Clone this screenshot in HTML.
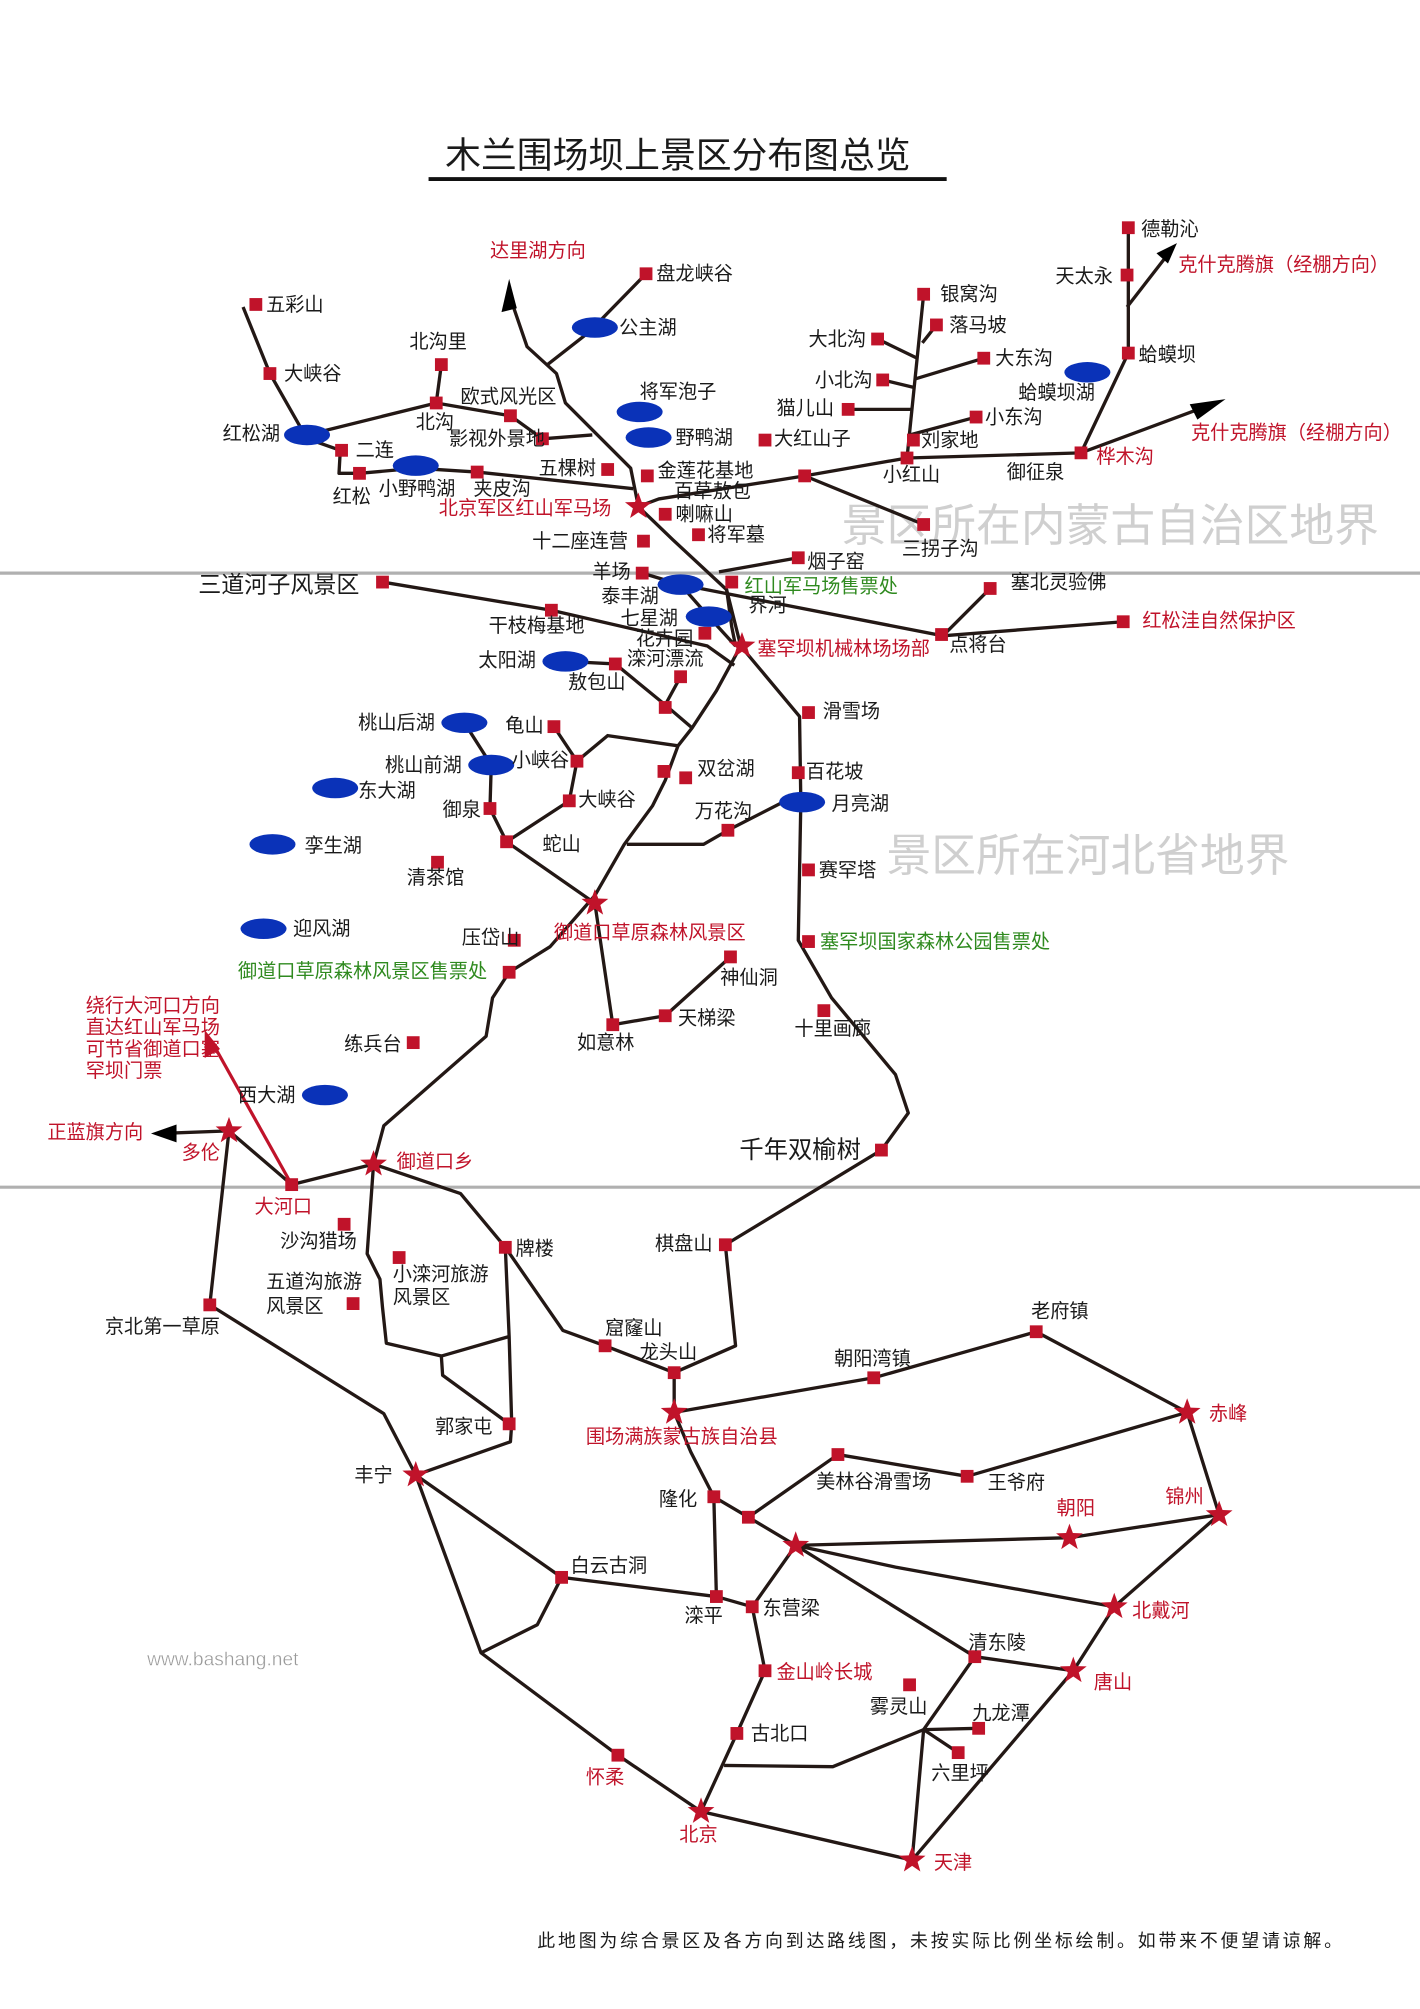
<!DOCTYPE html>
<html><head><meta charset="utf-8"><style>
html,body{margin:0;padding:0;background:#fff;}
svg{display:block;}
text{font-family:"Liberation Sans","Noto Sans CJK SC",sans-serif;font-size:15px;fill:#1a1a1a;}
.r{fill:#c0132a;}
.g{fill:#2f8a1f;}
.w{fill:#cfcfcf;font-size:35px;}
</style></head><body>
<svg width="1420" height="2009" viewBox="0 0 1110 1570.4" preserveAspectRatio="none" xmlns="http://www.w3.org/2000/svg">
<defs>
<polygon id="st" points="0,-11 2.65,-3.64 10.46,-3.4 4.28,1.39 6.47,8.9 0,4.5 -6.47,8.9 -4.28,1.39 -10.46,-3.4 -2.65,-3.64" fill="#c0132a"/>
<rect id="sq" x="-5" y="-5" width="10" height="10" fill="#c0132a"/>
<ellipse id="lk" rx="18" ry="8" fill="#0a32b8"/>
</defs>
<rect width="1110" height="1571" fill="#fff"/>
<line x1="0" y1="448" x2="1110" y2="448" stroke="#b0b0b0" stroke-width="2.5"/>
<line x1="0" y1="928" x2="1110" y2="928" stroke="#b0b0b0" stroke-width="2.5"/>
<text class="w" x="658" y="423">景区所在内蒙古自治区地界</text>
<text class="w" x="693" y="681">景区所在河北省地界</text>
<text x="348" y="131" style="font-size:28px">木兰围场坝上景区分布图总览</text>
<line x1="335" y1="140" x2="740" y2="140" stroke="#111" stroke-width="3"/>

<g fill="none" stroke="#231815" stroke-width="2.6" stroke-linejoin="round">
<polyline points="190,240 211,292 236,336"/>
<polyline points="240,340 341,315 399,325 424,343 463,340"/>
<polyline points="341,315 345,285"/>
<polyline points="246,345 266,352 265,370 281,370 325,366 373,369 495,382"/>
<polyline points="400,236 412,271 435,292 442,315 493,366 499,396 526,422 568,461 579,505"/>
<polyline points="428,285 460,260 505,214"/>
<polyline points="499,396 515,390 629,372 709,358 845,354"/>
<polyline points="629,372 722,410"/>
<polyline points="709,358 722,230"/>
<polyline points="686,265 717,280"/>
<polyline points="732,254 721,268"/>
<polyline points="769,280 716,296"/>
<polyline points="690,297 715,303"/>
<polyline points="663,320 712,320"/>
<polyline points="763,326 711,340"/>
<polyline points="845,354 882,276 882,178"/>
<polyline points="881,240 912,200"/>
<polyline points="845,354 942,318"/>
<polyline points="562,447 624,436"/>
<polyline points="502,448 532,457 737,497 774,460"/>
<polyline points="737,497 878,486"/>
<polyline points="532,457 554,482 575,505"/>
<polyline points="299,455 431,477 553,505 574,520"/>
<polyline points="568,461 572,490 575,505"/>
<polyline points="579,505 560,540 541,569 530,583 520,610 510,630 488,660 465,700 430,740 398,760 385,780 380,810 340,845 300,880 292,910"/>
<polyline points="442,517 481,519 520,551 541,569"/>
<polyline points="532,529 520,551"/>
<polyline points="363,565 384,598 383,632 396,658 465,706"/>
<polyline points="396,658 445,626 451,595 433,568"/>
<polyline points="451,595 475,575 530,583"/>
<polyline points="465,706 479,801 520,794 571,748"/>
<polyline points="490,660 550,660 569,649 612,627"/>
<polyline points="579,505 625,560 626,627 624,735 650,780 700,840 710,870 689,899 567,973 575,1052 527,1073"/>
<polyline points="126,886 179,884 228,926 292,910"/>
<polyline points="179,884 164,1020 300,1105 325,1153"/>
<polyline points="292,910 287,980 297,1000 299,1022 302,1050 345,1060 346,1075 398,1113"/>
<polyline points="345,1060 397,1045"/>
<polyline points="292,910 360,933 395,975 398,1045 400,1113 399,1127 325,1153"/>
<polyline points="395,975 440,1040 473,1052 527,1073 527,1104"/>
<polyline points="527,1104 683,1077 810,1041 928,1104 953,1184 871,1256 839,1306 713,1454"/>
<polyline points="527,1104 540,1135 558,1170 585,1186 622,1208"/>
<polyline points="558,1170 560,1248"/>
<polyline points="585,1186 655,1137 756,1154 928,1104"/>
<polyline points="622,1208 836,1202 953,1184"/>
<polyline points="622,1208 700,1225 871,1256"/>
<polyline points="622,1208 762,1295 839,1306"/>
<polyline points="622,1208 588,1256 598,1306 576,1355 548,1416"/>
<polyline points="325,1153 439,1233 560,1248 588,1256"/>
<polyline points="325,1153 376,1292 483,1372 548,1416 713,1454"/>
<polyline points="376,1292 420,1270 439,1233"/>
<polyline points="762,1295 722,1352 713,1454"/>
<polyline points="722,1352 765,1351"/>
<polyline points="722,1352 749,1370"/>
<polyline points="722,1352 651,1381 566,1380"/>
</g>
<polygon points="398,218 392,244 404,241" fill="#000"/>
<polygon points="920,190 904,198 913,206" fill="#000"/>
<polygon points="958,312 930,316 936,328" fill="#000"/>
<polygon points="118,886 138,879 138,893" fill="#000"/>
<line x1="228" y1="926" x2="166" y2="815" stroke="#c0132a" stroke-width="2.5"/>
<polygon points="160,805 160,827 172,820" fill="#c0132a"/>

<g>
<use href="#sq" x="200" y="238"/><use href="#sq" x="211" y="292"/><use href="#sq" x="267" y="352"/>
<use href="#sq" x="281" y="370"/><use href="#sq" x="373" y="369"/><use href="#sq" x="341" y="315"/>
<use href="#sq" x="345" y="285"/><use href="#sq" x="399" y="325"/><use href="#sq" x="424" y="343"/>
<use href="#sq" x="475" y="367"/><use href="#sq" x="505" y="214"/><use href="#sq" x="506" y="372"/>
<use href="#sq" x="520" y="402"/><use href="#sq" x="546" y="418"/><use href="#sq" x="503" y="423"/>
<use href="#sq" x="502" y="448"/><use href="#sq" x="572" y="455"/><use href="#sq" x="551" y="495"/>
<use href="#sq" x="481" y="519"/><use href="#sq" x="624" y="436"/><use href="#sq" x="722" y="410"/>
<use href="#sq" x="736" y="496"/><use href="#sq" x="774" y="460"/><use href="#sq" x="878" y="486"/>
<use href="#sq" x="299" y="455"/><use href="#sq" x="431" y="477"/><use href="#sq" x="629" y="372"/>
<use href="#sq" x="722" y="230"/><use href="#sq" x="732" y="254"/><use href="#sq" x="686" y="265"/>
<use href="#sq" x="769" y="280"/><use href="#sq" x="690" y="297"/><use href="#sq" x="663" y="320"/>
<use href="#sq" x="763" y="326"/><use href="#sq" x="598" y="344"/><use href="#sq" x="714" y="344"/>
<use href="#sq" x="709" y="358"/><use href="#sq" x="845" y="354"/><use href="#sq" x="882" y="276"/>
<use href="#sq" x="881" y="215"/><use href="#sq" x="882" y="178"/>
<use href="#sq" x="532" y="529"/><use href="#sq" x="520" y="553"/>
<use href="#sq" x="433" y="568"/><use href="#sq" x="451" y="595"/><use href="#sq" x="383" y="632"/>
<use href="#sq" x="445" y="626"/><use href="#sq" x="396" y="658"/><use href="#sq" x="342" y="674"/>
<use href="#sq" x="402" y="735"/><use href="#sq" x="398" y="760"/><use href="#sq" x="323" y="815"/>
<use href="#sq" x="479" y="801"/><use href="#sq" x="520" y="794"/><use href="#sq" x="571" y="748"/>
<use href="#sq" x="644" y="790"/><use href="#sq" x="519" y="603"/><use href="#sq" x="536" y="608"/>
<use href="#sq" x="624" y="604"/><use href="#sq" x="569" y="649"/><use href="#sq" x="632" y="557"/>
<use href="#sq" x="632" y="680"/><use href="#sq" x="632" y="736"/><use href="#sq" x="689" y="899"/>
<use href="#sq" x="228" y="926"/><use href="#sq" x="164" y="1020"/><use href="#sq" x="269" y="957"/>
<use href="#sq" x="276" y="1019"/><use href="#sq" x="312" y="983"/><use href="#sq" x="395" y="975"/>
<use href="#sq" x="473" y="1052"/><use href="#sq" x="527" y="1073"/><use href="#sq" x="398" y="1113"/>
<use href="#sq" x="567" y="973"/><use href="#sq" x="683" y="1077"/><use href="#sq" x="810" y="1041"/>
<use href="#sq" x="756" y="1154"/><use href="#sq" x="655" y="1137"/><use href="#sq" x="558" y="1170"/>
<use href="#sq" x="585" y="1186"/><use href="#sq" x="762" y="1295"/><use href="#sq" x="711" y="1317"/>
<use href="#sq" x="765" y="1351"/><use href="#sq" x="749" y="1370"/><use href="#sq" x="483" y="1372"/>
<use href="#sq" x="576" y="1355"/><use href="#sq" x="598" y="1306"/><use href="#sq" x="588" y="1256"/>
<use href="#sq" x="560" y="1248"/><use href="#sq" x="439" y="1233"/>
</g>
<g>
<use href="#lk" x="240" y="340"/><use href="#lk" x="325" y="364"/><use href="#lk" x="465" y="256"/>
<use href="#lk" x="500" y="322"/><use href="#lk" x="507" y="342"/><use href="#lk" x="532" y="457"/>
<use href="#lk" x="554" y="482"/><use href="#lk" x="442" y="517"/><use href="#lk" x="850" y="291"/>
<use href="#lk" x="363" y="565"/><use href="#lk" x="384" y="598"/><use href="#lk" x="262" y="616"/>
<use href="#lk" x="213" y="660"/><use href="#lk" x="206" y="726"/><use href="#lk" x="254" y="856"/>
<use href="#lk" x="627" y="627"/>
</g>
<g>
<use href="#st" x="499" y="396"/><use href="#st" x="580" y="505"/><use href="#st" x="465" y="706"/>
<use href="#st" x="179" y="884"/><use href="#st" x="292" y="910"/><use href="#st" x="325" y="1153"/>
<use href="#st" x="527" y="1104"/><use href="#st" x="928" y="1104"/><use href="#st" x="622" y="1208"/>
<use href="#st" x="836" y="1202"/><use href="#st" x="953" y="1184"/><use href="#st" x="871" y="1256"/>
<use href="#st" x="839" y="1306"/><use href="#st" x="713" y="1454"/><use href="#st" x="548" y="1416"/>
</g>

<g>
<text x="208" y="243">五彩山</text><text x="222" y="297">大峡谷</text><text x="174" y="344">红松湖</text>
<text x="278" y="357">二连</text><text x="260" y="393">红松</text><text x="296" y="387">小野鸭湖</text>
<text x="370" y="387">夹皮沟</text><text x="325" y="335">北沟</text><text x="320" y="272">北沟里</text>
<text x="360" y="315">欧式风光区</text><text x="351" y="348">影视外景地</text><text x="421" y="371">五棵树</text>
<text class="r" x="383" y="201">达里湖方向</text><text x="513" y="219">盘龙峡谷</text><text x="484" y="261">公主湖</text>
<text x="500" y="311">将军泡子</text><text x="528" y="347">野鸭湖</text><text x="514" y="373">金莲花基地</text>
<text x="527" y="389">百草敖包</text><text class="r" x="343" y="402">北京军区红山军马场</text>
<text x="528" y="407">喇嘛山</text><text x="553" y="423">将军墓</text><text x="416" y="428">十二座连营</text>
<text x="463" y="452">羊场</text><text x="470" y="471">泰丰湖</text><text class="g" x="582" y="463">红山军马场售票处</text>
<text x="585" y="478">界河</text><text x="485" y="488">七星湖</text><text x="497" y="504">花卉园</text>
<text x="490" y="520">滦河漂流</text><text x="444" y="538">敖包山</text><text x="374" y="521">太阳湖</text>
<text x="631" y="444">烟子窑</text><text x="705" y="434">三拐子沟</text>
<text class="r" x="592" y="512">塞罕坝机械林场场部</text><text x="742" y="509">点将台</text>
<text x="790" y="460">塞北灵验佛</text><text class="r" x="893" y="490">红松洼自然保护区</text>
<text x="155" y="463" style="font-size:18px">三道河子风景区</text><text x="382" y="494">干枝梅基地</text>
<text x="735" y="235">银窝沟</text><text x="742" y="259">落马坡</text><text x="632" y="270">大北沟</text>
<text x="778" y="285">大东沟</text><text x="637" y="302">小北沟</text><text x="607" y="324">猫儿山</text>
<text x="770" y="331">小东沟</text><text x="605" y="348">大红山子</text><text x="720" y="349">刘家地</text>
<text x="690" y="376">小红山</text><text x="787" y="374">御征泉</text><text class="r" x="857" y="362">桦木沟</text>
<text x="796" y="312">蛤蟆坝湖</text><text x="890" y="282">蛤蟆坝</text><text x="825" y="221">天太永</text>
<text x="892" y="184">德勒沁</text>
<text class="r" x="921" y="212">克什克腾旗（经棚方向）</text><text class="r" x="931" y="343">克什克腾旗（经棚方向）</text>
<text x="280" y="570">桃山后湖</text><text x="395" y="572">龟山</text><text x="400" y="599">小峡谷</text>
<text x="301" y="603">桃山前湖</text><text x="280" y="623">东大湖</text><text x="346" y="638">御泉</text>
<text x="452" y="630">大峡谷</text><text x="238" y="666">孪生湖</text><text x="424" y="665">蛇山</text>
<text x="318" y="691">清茶馆</text><text x="229" y="731">迎风湖</text>
<text class="r" x="433" y="734">御道口草原森林风景区</text><text x="361" y="738">压岱山</text>
<text class="g" x="186" y="764">御道口草原森林风景区售票处</text><text x="269" y="821">练兵台</text>
<text x="451" y="820">如意林</text><text x="530" y="801">天梯梁</text><text x="563" y="769">神仙洞</text>
<text x="621" y="809">十里画廊</text><text x="186" y="861">西大湖</text><text x="545" y="606">双岔湖</text>
<text x="630" y="608">百花坡</text><text x="650" y="633">月亮湖</text><text x="543" y="639">万花沟</text>
<text x="643" y="561">滑雪场</text><text x="640" y="685">赛罕塔</text>
<text class="g" x="641" y="741">塞罕坝国家森林公园售票处</text>
<text x="578" y="905" style="font-size:19px">千年双榆树</text>
<text class="r" x="67" y="791">绕行大河口方向</text><text class="r" x="67" y="808">直达红山军马场</text>
<text class="r" x="67" y="825">可节省御道口塞</text><text class="r" x="67" y="842">罕坝门票</text>
<text class="r" x="37" y="890">正蓝旗方向</text><text class="r" x="142" y="906">多伦</text>
<text class="r" x="199" y="948">大河口</text><text class="r" x="310" y="913">御道口乡</text>
<text x="82" y="1042">京北第一草原</text><text x="219" y="975">沙沟猎场</text>
<text x="208" y="1007">五道沟旅游</text><text x="208" y="1026">风景区</text>
<text x="307" y="1001">小滦河旅游</text><text x="307" y="1019">风景区</text>
<text x="403" y="981">牌楼</text><text x="473" y="1043">窟窿山</text><text x="500" y="1062">龙头山</text>
<text x="340" y="1120">郭家屯</text><text x="277" y="1158">丰宁</text><text x="512" y="977">棋盘山</text>
<text class="r" x="458" y="1128">围场满族蒙古族自治县</text>
<text x="652" y="1067">朝阳湾镇</text><text x="806" y="1030">老府镇</text><text class="r" x="945" y="1110">赤峰</text>
<text x="772" y="1164">王爷府</text><text x="638" y="1163">美林谷滑雪场</text><text x="515" y="1177">隆化</text>
<text class="r" x="826" y="1184">朝阳</text><text class="r" x="911" y="1175">锦州</text><text class="r" x="885" y="1264">北戴河</text>
<text class="r" x="855" y="1320">唐山</text><text x="757" y="1289">清东陵</text><text x="680" y="1339">雾灵山</text>
<text x="760" y="1344">九龙潭</text><text x="728" y="1391">六里坪</text><text class="r" x="730" y="1461">天津</text>
<text class="r" x="531" y="1439">北京</text><text class="r" x="458" y="1394">怀柔</text><text x="587" y="1360">古北口</text>
<text class="r" x="607" y="1312">金山岭长城</text><text x="596" y="1262">东营梁</text><text x="535" y="1268">滦平</text>
<text x="446" y="1229">白云古洞</text>
<text x="115" y="1302" style="font-size:15px;fill:#999;stroke:#fff;stroke-width:0.3">www.bashang.net</text>
<text x="420" y="1522" style="font-size:14px;letter-spacing:2.2px">此地图为综合景区及各方向到达路线图，未按实际比例坐标绘制。如带来不便望请谅解。</text>
</g>
</svg>
</body></html>
